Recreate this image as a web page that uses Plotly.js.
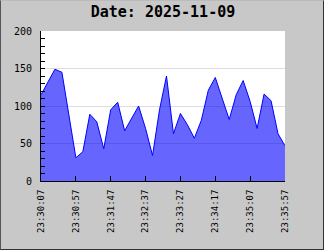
<!DOCTYPE html>
<html>
<head>
<meta charset="utf-8">
<script src="https://cdn.plot.ly/plotly-3.0.1.min.js"></script>
<style>
  html, body { margin: 0; padding: 0; background: #c8c8c8; }
  #chart { width: 322px; height: 248px; border-left: 1px solid #555; border-bottom: 1px solid #333; border-right: 1px solid #333; border-top: 1px solid #bbb; }
</style>
</head>
<body>
<div id="chart"></div>
<script>
const times = [
  "2025-11-09 23:30:07","2025-11-09 23:30:17","2025-11-09 23:30:27","2025-11-09 23:30:37",
  "2025-11-09 23:30:47","2025-11-09 23:30:57","2025-11-09 23:31:07","2025-11-09 23:31:17",
  "2025-11-09 23:31:27","2025-11-09 23:31:37","2025-11-09 23:31:47","2025-11-09 23:31:57",
  "2025-11-09 23:32:07","2025-11-09 23:32:17","2025-11-09 23:32:27","2025-11-09 23:32:37",
  "2025-11-09 23:32:47","2025-11-09 23:32:57","2025-11-09 23:33:07","2025-11-09 23:33:17",
  "2025-11-09 23:33:27","2025-11-09 23:33:37","2025-11-09 23:33:47","2025-11-09 23:33:57",
  "2025-11-09 23:34:07","2025-11-09 23:34:17","2025-11-09 23:34:27","2025-11-09 23:34:37",
  "2025-11-09 23:34:47","2025-11-09 23:34:57","2025-11-09 23:35:07","2025-11-09 23:35:17",
  "2025-11-09 23:35:27","2025-11-09 23:35:37","2025-11-09 23:35:47","2025-11-09 23:35:57"
];
const values = [
  115, 132, 149, 145, 89, 31, 39, 89, 79, 43,
  95, 105, 67, 84, 100, 70, 34, 95, 140, 63,
  90, 75, 57, 81, 121, 138, 110, 82, 115, 134,
  106, 70, 116, 107, 63, 47
];
const tickTimes = [
  "2025-11-09 23:30:07","2025-11-09 23:30:57","2025-11-09 23:31:47","2025-11-09 23:32:37",
  "2025-11-09 23:33:27","2025-11-09 23:34:17","2025-11-09 23:35:07","2025-11-09 23:35:57"
];
const tickLabels = ["23:30:07","23:30:57","23:31:47","23:32:37","23:33:27","23:34:17","23:35:07","23:35:57"];
const yTicks = [0, 50, 100, 150, 200];
const titleText = "Date: 2025-11-09";

const trace = {
  x: times, y: values, type: 'scatter', mode: 'lines',
  fill: 'tozeroy', fillcolor: 'rgba(0,0,255,0.6)',
  line: { color: '#0000ff', width: 1 },
  hoverinfo: 'none'
};
const xfont = { family: 'DejaVu Sans Mono', size: 9, color: '#000' };
const yfont = { family: 'DejaVu Sans Mono', size: 10, color: '#000' };
const layout = {
  width: 322, height: 248,
  margin: { l: 40, r: 38, t: 30, b: 68, pad: 0 },
  paper_bgcolor: '#c8c8c8', plot_bgcolor: '#ffffff',
  showlegend: false,
  title: { text: titleText, font: { family: 'DejaVu Sans Mono', size: 15, weight: 'bold', color: '#000' },
           x: 0.5, xref: 'paper', y: 1 - 11/248, yref: 'container', yanchor: 'middle' },
  xaxis: {
    type: 'date', range: [times[0], times[times.length-1]],
    tickmode: 'array', tickvals: tickTimes, ticktext: tickLabels, tickangle: -90,
    ticks: 'inside', ticklen: 5, tickcolor: '#000', tickwidth: 1,
    ticklabelstandoff: 4,
    showgrid: false, zeroline: false, showline: true, linecolor: '#000', linewidth: 1,
    tickfont: xfont, layer: 'above traces'
  },
  yaxis: {
    range: [0, 200], tickmode: 'array', tickvals: yTicks, ticktext: yTicks.map(String),
    ticks: 'inside', ticklen: 4, tickcolor: '#000', tickwidth: 1,
    ticklabelstandoff: 6,
    minor: { dtick: 10, tick0: 0, ticks: 'inside', ticklen: 4, tickcolor: '#000', showgrid: false },
    showgrid: true, gridcolor: '#dddddd', gridwidth: 1,
    zeroline: false, showline: true, linecolor: '#000', linewidth: 1,
    tickfont: yfont, layer: 'above traces'
  }
};
Plotly.newPlot('chart', [trace], layout, { staticPlot: true, displayModeBar: false });
</script>
</body>
</html>
